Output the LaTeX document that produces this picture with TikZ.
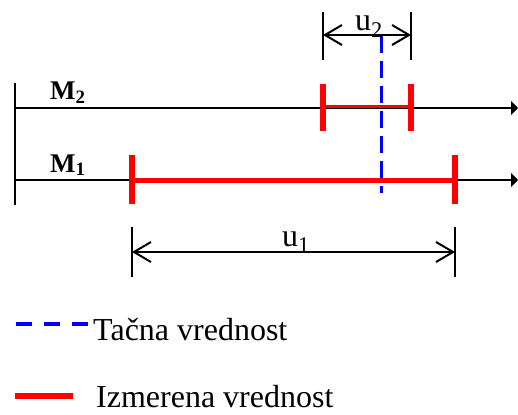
\documentclass[tikz,border=0pt]{standalone}
\usepackage{fontspec}
\setmainfont{Liberation Serif}
\usetikzlibrary{arrows.meta}
\begin{document}
\begin{tikzpicture}[x=1pt,y=-1pt,
  axisline/.style={line width=2pt,-{Triangle[length=7pt,width=14pt]}},
  guide/.style={line width=1.5pt},
  dimline/.style={line width=2pt,{Straight Barb[length=17pt,width=20pt]}-{Straight Barb[length=17pt,width=20pt]}},
  truevalue/.style={blue,line width=3.3pt,dash pattern=on 17pt off 8pt},
  measbar/.style={red,line width=5pt},
  measbarthin/.style={red,line width=3pt},
  meastick/.style={red,line width=6pt},
  lbl/.style={font=\fontsize{32}{36}\selectfont,inner sep=0pt},
  axislbl/.style={font=\fontsize{27}{30}\selectfont\bfseries,inner sep=0pt,anchor=base west}]
\useasboundingbox (0,0) rectangle (518,414);

% axis and end points
\coordinate (axTop) at (15,83);
\coordinate (axBot) at (15,205);
\coordinate (m2s) at (15,108);
\coordinate (m2e) at (518,108);
\coordinate (m1s) at (15,180);
\coordinate (m1e) at (518,180);

% true value (dashed vertical)
\coordinate (tvTop) at (381.5,36);
\coordinate (tvBot) at (381.5,193);
\draw[truevalue] (tvTop) -- (tvBot);

% axes
\draw[guide] (axTop) -- (axBot);
\draw[axisline] (m2s) -- (m2e);
\draw[axisline] (m1s) -- (m1e);

\node[axislbl] (M2) at (50,100) {M\textsubscript{2}};
\node[axislbl] (M1) at (50,172) {M\textsubscript{1}};

% measured interval on M2
\coordinate (a2) at (323,107);
\coordinate (b2) at (411,107);
\draw[measbarthin] (a2) -- (b2);
\draw[meastick] (323,84) -- (323,131);
\draw[meastick] (411,84) -- (411,131);

% measured interval on M1
\coordinate (a1) at (132,180);
\coordinate (b1) at (455,180);
\draw[measbar] (a1) -- (b1);
\draw[meastick] (132,155) -- (132,204);
\draw[meastick] (455,155) -- (455,204);

% dimension u2
\coordinate (u2lt) at (323,12);
\coordinate (u2lb) at (323,60);
\coordinate (u2rt) at (411,12);
\coordinate (u2rb) at (411,60);
\draw[guide] (u2lt) -- (u2lb);
\draw[guide] (u2rt) -- (u2rb);
\coordinate (u2a) at (323,35);
\coordinate (u2b) at (411,35);
\draw[dimline] (u2a) -- (u2b);
\node[lbl,anchor=base] (u2) at (369,31) {u\textsubscript{2}};

% dimension u1
\coordinate (u1lt) at (132,227);
\coordinate (u1lb) at (132,277);
\coordinate (u1rt) at (455,227);
\coordinate (u1rb) at (455,277);
\draw[guide] (u1lt) -- (u1lb);
\draw[guide] (u1rt) -- (u1rb);
\coordinate (u1a) at (132,252);
\coordinate (u1b) at (455,252);
\draw[dimline] (u1a) -- (u1b);
\node[lbl,anchor=base] (u1) at (296,246) {u\textsubscript{1}};

% legend
\coordinate (lg1s) at (16,324);
\coordinate (lg1e) at (88,324);
\draw[blue,line width=4pt,dash pattern=on 16pt off 12pt] (lg1s) -- (lg1e);
\node[lbl,anchor=base west] (lgt1) at (93,340) {Tačna vrednost};
\coordinate (lg2s) at (15,396);
\coordinate (lg2e) at (73,396);
\draw[red,line width=6pt] (lg2s) -- (lg2e);
\node[lbl,anchor=base west] (lgt2) at (96,407) {Izmerena vrednost};
\end{tikzpicture}
\end{document}
